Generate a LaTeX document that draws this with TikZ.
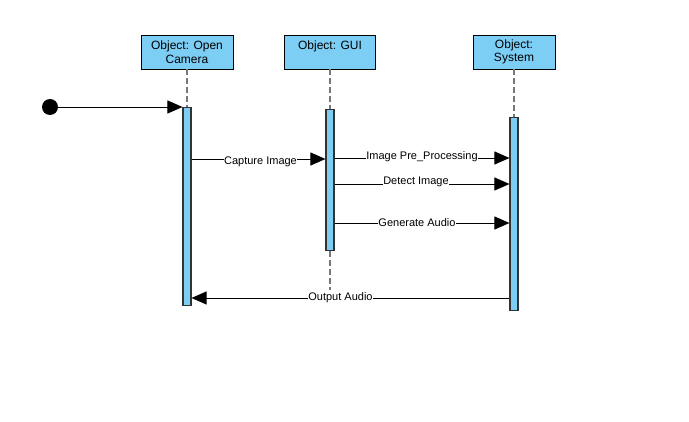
\documentclass[tikz,border=0pt]{standalone}
\usepackage{fontspec}
\setmainfont{Liberation Sans}
\usetikzlibrary{arrows.meta}
\definecolor{lblue}{RGB}{125,206,245}
\definecolor{lgray}{RGB}{120,120,120}

\begin{document}
\begin{tikzpicture}[x=1pt, y=-1pt,
                    font=\fontsize{11}{13}\selectfont,
                    obj/.style={draw, fill=lblue, minimum height=34pt, align=center, inner sep=1pt,
                                font=\fontsize{12}{13.5}\selectfont},
                    act/.style={draw=black!80, fill=lblue, minimum width=8pt, inner sep=0, line width=1.1pt, anchor=north},
                    life/.style={draw=lgray, line width=1.6pt, dash pattern=on 6pt off 3pt},
                    msg/.style={-{Triangle[length=15pt, width=13pt]}, line width=0.9pt},
                    lbl/.style={fill=white, inner sep=0.5pt, midway}]
                \useasboundingbox (0,0) rectangle (689,422);

                \node [obj, minimum width=92pt] (cam) at (187,52) {Object: Open\\Camera};
                \node [obj, minimum width=91pt] (gui) at (330,52) {Object: GUI\\\mbox{}};
                \node [obj, minimum width=82pt] (sys) at (514,52) {Object:\\System};

                \node [act, minimum height=198pt] (camA) at (187,107) {};
                \node [act, minimum height=141pt] (guiA) at (330,109) {};
                \node [act, minimum height=193pt] (sysA) at (514,117) {};
                \coordinate (guiEnd) at (330,290);

                \draw [life] (cam) -- (camA);
                \draw [life] (gui) -- (guiA);
                \draw [life] (guiA) -- (guiEnd);
                \draw [life] (sys) -- (sysA);

                \node [circle, fill=black, minimum size=16pt, inner sep=0] (start) at (50,107) {};
                \draw [msg] (start) -- (camA.north west);

                \draw [msg] (camA.east |- 0,159) -- node [lbl, yshift=-3pt, xshift=2pt] {Capture Image} (guiA.west |- 0,159);
                \draw [msg] (guiA.east |- 0,158) -- node [lbl, yshift=1pt] {Image Pre\_Processing} (sysA.west |- 0,158);
                \draw [msg] (guiA.east |- 0,184) -- node [lbl, yshift=2pt, xshift=-6pt] {Detect Image} (sysA.west |- 0,184);
                \draw [msg] (guiA.east |- 0,223) -- node [lbl, xshift=-5pt] {Generate Audio} (sysA.west |- 0,223);
                \draw [msg] (sysA.west |- 0,298) -- node [lbl, xshift=-10pt] {Output Audio} (camA.east |- 0,298);
            \end{tikzpicture}
\end{document}
